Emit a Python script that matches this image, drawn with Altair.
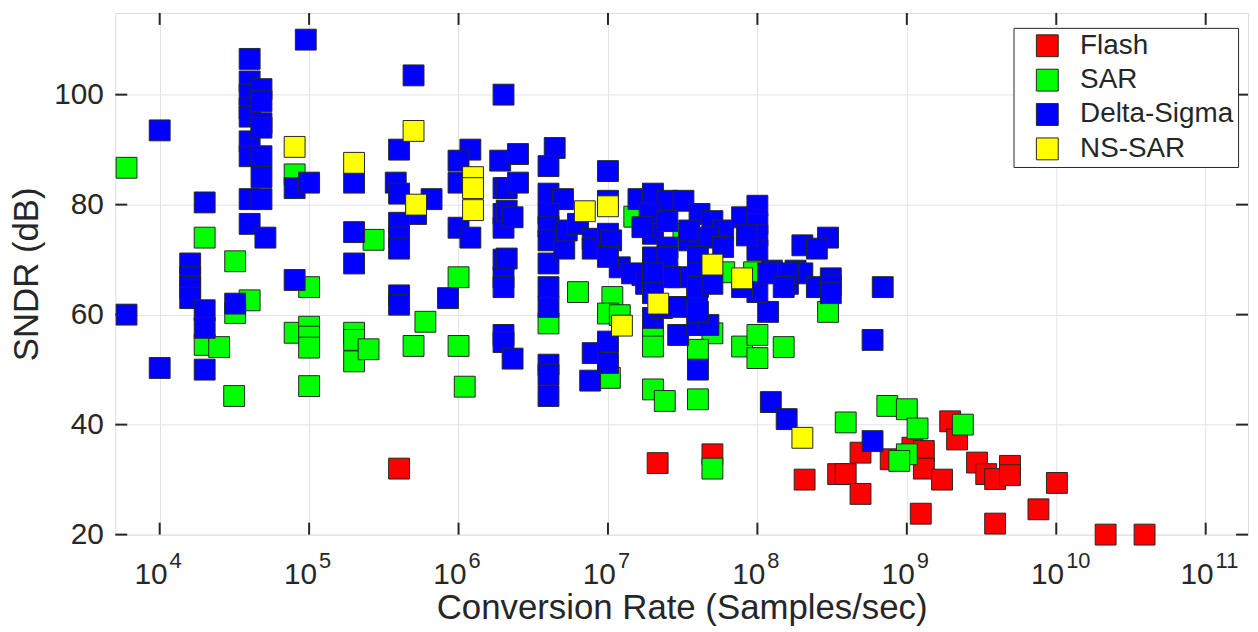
import altair as alt
import pandas as pd

FONT = "Liberation Sans"
INK = "#262626"

categories = ["Flash", "SAR", "Delta-Sigma", "NS-SAR"]
colors = ["#FF0000", "#00FF00", "#0000FF", "#FFFF00"]

flash_rate = [4.0e5, 2.15e7, 5.0e7, 2.07e8, 3.47e8, 3.9e8, 4.9e8, 4.9e8, 7.8e8, 1.09e9,
              1.3e9, 1.3e9, 1.72e9, 1.24e9, 1.95e9, 2.17e9, 2.95e9, 3.4e9, 3.9e9, 4.9e9,
              4.9e9, 3.9e9, 7.6e9, 1.01e10, 2.14e10, 3.9e10]
flash_sndr = [32, 33, 34.6, 30, 31, 31, 34.9, 27.4, 33.7, 35.8,
              35.2, 32, 30, 23.8, 40.6, 37.3, 33.1, 31, 30.1, 32.5,
              30.8, 22, 24.6, 29.4, 20, 20]

sar_rate = [6e3, 8e4, 2e4, 3.2e4, 2.7e5, 1e6, 1e5, 4e4, 3.2e4, 2e4,
            2.5e4, 3.15e4, 8e4, 1e5, 1e5, 1e5, 1e5, 2e5, 2e5, 2e5,
            2.5e5, 6e5, 5e5, 1e6, 1.1e6, 4e6, 6.3e6, 1.07e7, 1e7, 1.2e7,
            1.03e7, 2e7, 2e7, 2e7, 2.4e7, 5e7, 4e7, 4e7, 5e7, 7.9e7,
            1e8, 1e8, 1.5e8, 2.97e8, 3.9e8, 7.4e8, 1e9, 1.18e9, 1e9, 8.9e8,
            2.37e9, 1.5e7, 3.2e7, 6e7, 9.5e7]
sar_sndr = [86.7, 85.5, 74, 69.7, 73.6, 66.8, 65, 62.6, 60.3, 54.5,
            54.1, 45.2, 56.7, 57.8, 56, 54, 47, 56.7, 55.4, 51.5,
            53.7, 58.7, 54.3, 54.3, 46.9, 58.4, 64.1, 63.2, 60.2, 59.9,
            48.5, 55.8, 54.2, 46.4, 44.3, 56.6, 53.6, 44.6, 32, 54.2,
            56.3, 52.1, 54.1, 60.5, 40.4, 43.4, 42.8, 39.3, 34.6, 33.4,
            40, 77.8, 74.7, 67.7, 67.7]

ds_rate = [9.5e4, 4e4, 4e4, 4e4, 4e4, 4e4, 4e4, 4e4, 4e4, 4e4,
           4.8e4, 4.8e4, 4.8e4, 4.8e4, 4.8e4, 4.8e4, 4.8e4, 5.1e4, 1e4, 8e4,
           1e5, 2e5, 5e5, 4e5, 3.8e5, 4e5, 6.6e5, 5.2e5, 4e5, 4e5,
           4e5, 1.2e6, 1e6, 1e6, 1e6, 1.2e6, 2e6, 1.9e6, 2e6, 2e6,
           2e6, 2e6, 2e6, 2e4, 1.6e4, 2e5, 2e5, 8e4, 1.6e4, 1.6e4,
           1.6e4, 4e5, 4e5, 8.5e5, 2e6, 2e6, 2e6, 2.3e6, 6e3, 1e4,
           2e4, 2e4, 2e4, 3.2e4, 2.5e6, 2.1e6, 2.5e6, 4.4e6, 4e6, 4e6,
           5e6, 4e6, 4e6, 4e6, 4e6, 5.1e6, 5.3e6, 1e7, 6.3e6, 7.9e6,
           7.9e6, 1e7, 1e7, 1.05e7, 1.2e7, 1e7, 1.6e7, 2e7, 2.5e7, 3.2e7,
           1.9e7, 2e7, 2.5e7, 2.5e7, 2e7, 1.7e7, 2.5e7, 1.7e7, 2.9e7, 1.45e7,
           1.8e7, 2.6e7, 4.1e7, 5e7, 5.9e7, 7.9e7, 1e8, 1e8, 1e8, 1e8,
           3.5e7, 3.5e7, 4.7e7, 4e7, 5.9e7, 8.5e7, 2e8, 2.97e8, 2.5e8, 1.25e8,
           1.8e8, 6.9e8, 3.1e8, 2.1e6, 2.3e6, 2.1e6, 4e6, 4e6, 4e6, 4e6,
           4e6, 7.9e6, 1e7, 1e7, 7.6e6, 2e7, 2e7, 2e7, 2.3e7, 2.95e7,
           2.95e7, 3.95e7, 3.95e7, 4.7e7, 4e7, 4e7, 4e7, 5e7, 4e7, 1.18e8,
           1e8, 7.9e7, 1.6e8, 2e8, 2.5e8, 3.1e8, 3.1e8, 5.9e8, 1.23e8, 1.57e8,
           5.9e8, 1.18e8, 1.6e8, 1.5e8]
ds_sndr = [110, 106.5, 102.4, 100, 97.5, 96, 91.5, 88.8, 81, 76.5,
           101, 98.8, 94.8, 94, 88.8, 85, 81, 74, 93.5, 83,
           84, 84, 103.5, 90, 84, 82, 81, 78.3, 76.7, 74,
           72, 90, 88, 84, 75.8, 74, 100, 88, 83, 78.3,
           75.8, 70, 66.8, 80.4, 69.3, 75, 69.3, 66.3, 66.8, 65,
           63, 63.5, 61.8, 63, 65, 56.3, 55, 52, 60, 50.3,
           60.8, 57.6, 50, 62, 89.2, 83, 84, 90.3, 87, 82,
           81, 78.3, 76, 73.5, 69.3, 72, 75.3, 86.1, 76.5, 73.8,
           72, 80.7, 74.7, 73.5, 68.6, 70.5, 81, 82, 80.7, 80.7,
           78.3, 74.7, 77, 72.2, 70.4, 75.9, 70.5, 67.2, 66.8, 67.5,
           65.6, 66.8, 78.3, 77, 75.3, 77.7, 79.8, 76.5, 74.4, 71.7,
           73.5, 75.3, 74, 70.5, 72.3, 74.4, 72.6, 74, 72, 68,
           68, 65, 66.6, 78.9, 77.7, 70.2, 61.4, 65, 50.9, 49.1,
           45.2, 53, 55.1, 51.2, 48, 67.5, 63.9, 59.4, 61.2, 56.3,
           61.4, 63.2, 58.1, 58.1, 50, 67.5, 65, 65.6, 60.5, 60.5,
           64.1, 65, 65.6, 67.5, 65, 65.3, 63.9, 55.4, 44.1, 41,
           37, 67.5, 67.5, 65]

ns_rate = [8e4, 2e5, 5e5, 5.2e5, 1.25e6, 1.25e6, 1.25e6, 7e6, 1e7, 1.24e7,
           2.17e7, 5e7, 7.9e7, 2e8]
ns_sndr = [90.5, 87.6, 93.4, 80, 85, 83, 79, 78.8, 79.7, 58,
           62, 69.1, 66.6, 37.6]

x_ticks = [1e4, 1e5, 1e6, 1e7, 1e8, 1e9, 1e10, 1e11]
x_exponents = ["4", "5", "6", "7", "8", "9", "10", "11"]
y_ticks = [20, 40, 60, 80, 100]

rows = []
for cat, rates, sndrs in [("Flash", flash_rate, flash_sndr),
                          ("SAR", sar_rate, sar_sndr),
                          ("Delta-Sigma", ds_rate, ds_sndr),
                          ("NS-SAR", ns_rate, ns_sndr)]:
    for r, s in zip(rates, sndrs):
        rows.append({"type": cat, "rate": r, "sndr": s})
df = pd.DataFrame(rows)

xt = pd.DataFrame({"rate": x_ticks, "exp": x_exponents})
yt = pd.DataFrame({"sndr": y_ticks})

W, H = 1140, 525
xscale = alt.Scale(type="log", domain=[5047, 1.92e11], nice=False)
yscale = alt.Scale(domain=[20, 114.85], nice=False, zero=False)

x_axis = alt.Axis(
    values=x_ticks, labels=False, ticks=False, domain=False,
    grid=True, gridColor="#e3e3e3", gridWidth=1,
    title="Conversion Rate (Samples/sec)", titleFont=FONT, titleFontSize=35,
    titleFontWeight="normal", titleColor=INK, titleBaseline="alphabetic",
    titleY=84)
y_axis = alt.Axis(
    values=y_ticks, ticks=False, domain=False, grid=True,
    gridColor="#e3e3e3", gridWidth=1,
    labelFont=FONT, labelFontSize=30, labelColor=INK, labelPadding=12,
    title="SNDR (dB)", titleFont=FONT, titleFontSize=35,
    titleFontWeight="normal", titleColor=INK, titleBaseline="alphabetic",
    titleX=-78)

X = alt.X("rate:Q", scale=xscale, axis=x_axis)
Y = alt.Y("sndr:Q", scale=yscale, axis=y_axis)

points = alt.Chart(df).mark_square(
    size=441, stroke=INK, strokeWidth=1, opacity=1
).encode(
    x=X, y=Y,
    color=alt.Color("type:N", scale=alt.Scale(domain=categories, range=colors),
                    legend=alt.Legend(
                        title=None, orient="none", legendX=904, legendY=15,
                        strokeColor=INK, fillColor="white", padding=4,
                        symbolType="square", symbolSize=484,
                        symbolStrokeColor=INK, symbolStrokeWidth=1,
                        symbolOpacity=1, labelFont=FONT, labelFontSize=28,
                        labelColor=INK, rowPadding=6.6, labelOffset=19,
                        symbolOffset=16)),
)

bottom_ticks = alt.Chart(xt).mark_rule(color=INK, strokeWidth=2).encode(
    x=X, y=alt.value(H), y2=alt.value(H - 12))
top_ticks = alt.Chart(xt).mark_rule(color=INK, strokeWidth=2).encode(
    x=X, y=alt.value(0), y2=alt.value(12))
left_ticks = alt.Chart(yt).mark_rule(color=INK, strokeWidth=2).encode(
    y=Y, x=alt.value(0), x2=alt.value(12))
right_ticks = alt.Chart(yt).mark_rule(color=INK, strokeWidth=2).encode(
    y=Y, x=alt.value(W), x2=alt.value(W - 12))

base_lbl = alt.Chart(xt).mark_text(
    align="right", baseline="alphabetic", font=FONT, fontSize=30, color=INK, dx=8
).encode(x=X, y=alt.value(H + 50), text=alt.value("10"))
exp_lbl = alt.Chart(xt).mark_text(
    align="left", baseline="alphabetic", font=FONT, fontSize=22, color=INK, dx=10
).encode(x=X, y=alt.value(H + 34), text="exp:N")

chart = alt.layer(
    bottom_ticks, top_ticks, left_ticks, right_ticks, points, base_lbl, exp_lbl
).properties(
    width=W, height=H,
    autosize=alt.AutoSizeParams(type="none"),
    padding={"left": 108, "top": 3, "right": 2, "bottom": 93},
).configure_view(
    stroke=INK, strokeWidth=2
).configure(font=FONT, background="white")

chart.save("out.html", embed_options={"renderer": "svg", "actions": False})
